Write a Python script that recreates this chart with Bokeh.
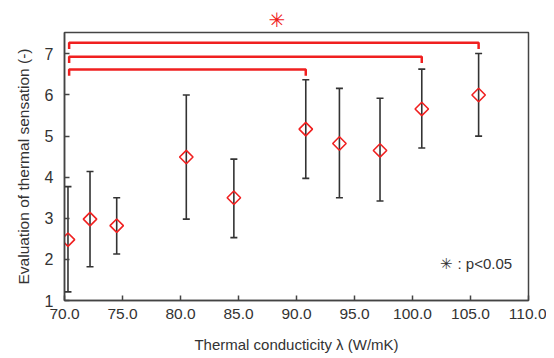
import math
from bokeh.plotting import figure
from bokeh.models import (ColumnDataSource, Whisker, TeeHead, Label, FixedTicker,
                          NumeralTickFormatter, Range1d, Title)
from bokeh.embed import file_html
from bokeh.resources import INLINE

# ---- data ----
conductivity = [70.3, 72.2, 74.5, 80.5, 84.6, 90.8, 93.7, 97.2, 100.8, 105.7]
sensation_mean = [2.48, 2.98, 2.82, 4.49, 3.50, 5.17, 4.82, 4.65, 5.66, 6.00]
sensation_upper = [3.77, 4.14, 3.50, 6.00, 4.44, 6.37, 6.16, 5.92, 6.63, 7.01]
sensation_lower = [1.21, 1.82, 2.13, 2.98, 2.53, 3.97, 3.50, 3.42, 4.71, 5.00]

# significance brackets: from the first sample to these samples
bracket_start = 70.4
bracket_targets = [90.8, 100.8, 105.7]
bracket_levels = [6.62, 6.93, 7.27]
bracket_drop = 0.15

x_ticks = [70, 75, 80, 85, 90, 95, 100, 105, 110]
y_ticks = [1, 2, 3, 4, 5, 6, 7]

FONT = "Liberation Sans"
RED = "#f02020"
DARK = "#333333"

p = figure(frame_width=464, frame_height=268, min_border_left=64, min_border_right=18,
           min_border_top=32, min_border_bottom=50,
           x_range=Range1d(70, 110), y_range=Range1d(1, 7.52),
           output_backend="svg", toolbar_location=None)

p.title = Title(text="\u2733", text_color=RED, text_font="DejaVu Sans",
                text_font_size="20px", text_font_style="normal", align="left",
                offset=204, standoff=2)

p.grid.visible = False
p.outline_line_color = "#444444"
p.outline_line_width = 1.5
p.background_fill_color = "white"
p.border_fill_color = "white"

for ax in (p.xaxis[0], p.yaxis[0]):
    ax.axis_line_color = "#444444"
    ax.axis_line_width = 1.5
    ax.major_tick_in = 5
    ax.major_tick_out = 0
    ax.major_tick_line_color = "#444444"
    ax.major_tick_line_width = 1.5
    ax.minor_tick_line_color = None
    ax.major_label_text_font = FONT
    ax.major_label_text_color = DARK
    ax.axis_label_text_font = FONT
    ax.axis_label_text_font_style = "normal"
    ax.axis_label_text_color = DARK

p.xaxis.ticker = FixedTicker(ticks=x_ticks)
p.xaxis.formatter = NumeralTickFormatter(format="0.0")
p.xaxis.major_label_text_font_size = "15.5px"
p.xaxis.major_label_standoff = 8
p.xaxis.axis_label = "Thermal conducticity \u03bb (W/mK)"
p.xaxis.axis_label_text_font_size = "15px"
p.xaxis.axis_label_standoff = 14

p.yaxis.ticker = FixedTicker(ticks=y_ticks)
p.yaxis.major_label_text_font_size = "16px"
p.yaxis.major_label_standoff = 11
p.yaxis.axis_label = "Evaluation of thermal sensation (-)"
p.yaxis.axis_label_text_font_size = "15.5px"
p.yaxis.axis_label_standoff = 10

# error bars
src = ColumnDataSource(dict(x=conductivity, mean=sensation_mean,
                            upper=sensation_upper, lower=sensation_lower))
w = Whisker(base="x", upper="upper", lower="lower", source=src, dimension="height",
            line_color=DARK, line_width=1.6,
            upper_head=TeeHead(size=7, line_color=DARK, line_width=1.6),
            lower_head=TeeHead(size=7, line_color=DARK, line_width=1.6))
p.add_layout(w)

# diamond markers
p.scatter("x", "mean", source=src, marker="square", size=9.5, angle=math.pi / 4,
          fill_color=None, line_color=RED, line_width=1.6)

# significance brackets
xs, ys = [], []
for tx, lv in zip(bracket_targets, bracket_levels):
    xs.append([bracket_start, bracket_start, tx, tx])
    ys.append([lv - bracket_drop, lv, lv, lv - bracket_drop])
p.multi_line(xs, ys, line_color=RED, line_width=2.5)

note = Label(x=102.4, y=1.89, text="\u2733 : p<0.05", text_color=DARK, text_font=FONT,
             text_font_size="15px", text_align="left", text_baseline="middle")
p.add_layout(note)

open("out.html", "w").write(file_html(p, INLINE))
